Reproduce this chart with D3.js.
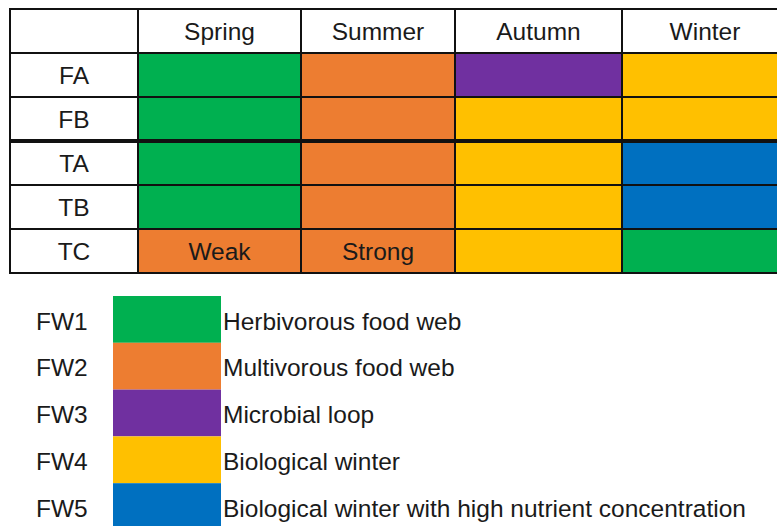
<!DOCTYPE html>
<html>
<head>
<meta charset="utf-8">
<script src="https://cdn.jsdelivr.net/npm/d3@7"></script>
<style>
  html, body { margin: 0; padding: 0; background: #fff; }
  svg { display: block; font-family: "Liberation Sans", Arial, sans-serif; }
</style>
</head>
<body>
<svg width="777" height="526"></svg>
<script>
// table data
var seasons = ['Spring', 'Summer', 'Autumn', 'Winter'];
var sites = ['FA', 'FB', 'TA', 'TB', 'TC'];
var siteFW = {
    FA: ['FW1', 'FW2', 'FW3', 'FW4'],
    FB: ['FW1', 'FW2', 'FW4', 'FW4'],
    TA: ['FW1', 'FW2', 'FW4', 'FW5'],
    TB: ['FW1', 'FW2', 'FW4', 'FW5'],
    TC: ['FW2', 'FW2', 'FW4', 'FW1']
};
var cellNotes = { TC: ['Weak', 'Strong', '', ''] };

// legend
var fwCodes = ['FW1', 'FW2', 'FW3', 'FW4', 'FW5'];
var fwNames = ['Herbivorous food web', 'Multivorous food web', 'Microbial loop',
               'Biological winter', 'Biological winter with high nutrient concentration'];
var fwColors = ['#00b050', '#ed7d31', '#7030a0', '#ffc000', '#0070c0'];

var svg = d3.select('svg');
var color = d3.scaleOrdinal().domain(fwCodes).range(fwColors);
var fs = 24.5;

// columns are not all the same width in the original
var colLeft = d3.scaleOrdinal().domain(['label'].concat(seasons)).range([10, 138, 301, 455, 622]);
var colRight = d3.scaleOrdinal().domain(['label'].concat(seasons)).range([138, 301, 455, 622, 788]);
var y = d3.scaleBand().domain(['header'].concat(sites)).range([9, 273]);

var cells = [];
sites.forEach(function (s) {
    seasons.forEach(function (season, i) {
        cells.push({ site: s, season: season, fw: siteFW[s][i],
                     note: cellNotes[s] ? cellNotes[s][i] : '' });
    });
});

var table = svg.append('g').attr('class', 'table');

table.selectAll('.cell')
    .data(cells)
    .enter().append('rect')
    .attr('class', 'cell')
    .attr('x', function (d) { return colLeft(d.season); })
    .attr('y', function (d) { return y(d.site); })
    .attr('width', function (d) { return colRight(d.season) - colLeft(d.season); })
    .attr('height', y.bandwidth())
    .attr('fill', function (d) { return color(d.fw); });

table.selectAll('.note')
    .data(cells.filter(function (d) { return d.note; }))
    .enter().append('text')
    .attr('class', 'note')
    .attr('x', function (d) { return (colLeft(d.season) + colRight(d.season)) / 2; })
    .attr('y', function (d) { return y(d.site) + y.bandwidth() / 2; })
    .attr('dy', '0.38em')
    .attr('text-anchor', 'middle')
    .attr('font-size', fs)
    .attr('fill', '#1a1a1a')
    .text(function (d) { return d.note; });

table.selectAll('.head')
    .data(seasons)
    .enter().append('text')
    .attr('class', 'head')
    .attr('x', function (d) { return (colLeft(d) + colRight(d)) / 2; })
    .attr('y', y('header') + y.bandwidth() / 2)
    .attr('dy', '0.36em')
    .attr('text-anchor', 'middle')
    .attr('font-size', fs)
    .attr('fill', '#1a1a1a')
    .text(function (d) { return d; });

table.selectAll('.site')
    .data(sites)
    .enter().append('text')
    .attr('class', 'site')
    .attr('x', (colLeft('label') + colRight('label')) / 2)
    .attr('y', function (d) { return y(d) + y.bandwidth() / 2; })
    .attr('dy', '0.38em')
    .attr('text-anchor', 'middle')
    .attr('font-size', fs)
    .attr('fill', '#1a1a1a')
    .text(function (d) { return d; });

// grid lines
var hLines = ['header'].concat(sites).map(function (r) { return y(r); }).concat([y.range()[1]]);
table.selectAll('.hline')
    .data(hLines)
    .enter().append('line')
    .attr('class', 'hline')
    .attr('x1', colLeft('label') - 1)
    .attr('x2', colRight('Winter'))
    .attr('y1', function (d) { return d; })
    .attr('y2', function (d) { return d; })
    .attr('stroke', '#111')
    .attr('stroke-width', function (d) { return d === y('TA') ? 4 : 2; });

var vLines = [colLeft('label')].concat(seasons.map(function (s) { return colLeft(s); }));
table.selectAll('.vline')
    .data(vLines)
    .enter().append('line')
    .attr('class', 'vline')
    .attr('x1', function (d) { return d; })
    .attr('x2', function (d) { return d; })
    .attr('y1', y.range()[0])
    .attr('y2', y.range()[1])
    .attr('stroke', '#111')
    .attr('stroke-width', 2);

// legend
var ly = d3.scaleBand().domain(fwCodes).range([296, 530]);
var legend = svg.append('g').attr('class', 'legend')
    .selectAll('g')
    .data(fwCodes)
    .enter().append('g');

legend.append('rect')
    .attr('x', 113)
    .attr('y', function (d) { return ly(d); })
    .attr('width', 108)
    .attr('height', ly.bandwidth())
    .attr('fill', function (d) { return color(d); });

legend.append('text')
    .attr('x', 36)
    .attr('y', function (d) { return ly(d) + ly.bandwidth() / 2; })
    .attr('dy', '0.42em')
    .attr('font-size', fs)
    .attr('fill', '#1a1a1a')
    .text(function (d) { return d; });

legend.append('text')
    .attr('x', 223)
    .attr('y', function (d) { return ly(d) + ly.bandwidth() / 2; })
    .attr('dy', '0.42em')
    .attr('font-size', fs)
    .attr('fill', '#1a1a1a')
    .text(function (d, i) { return fwNames[i]; });
</script>
</body>
</html>
